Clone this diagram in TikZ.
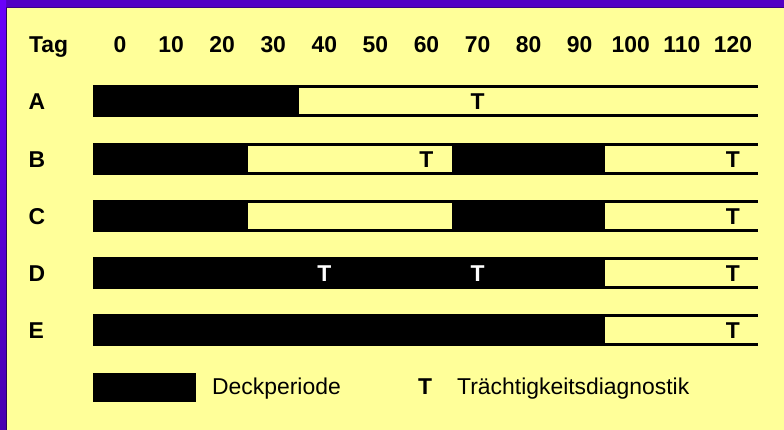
\documentclass[tikz,border=0pt]{standalone}
\usepackage{fontspec}
\setmainfont{Liberation Sans}
\definecolor{bgyellow}{HTML}{FFFF99}
\definecolor{framepurple}{HTML}{5200C4}
\definecolor{frametop}{HTML}{6A00FA}
\definecolor{framebot}{HTML}{4800B0}
\definecolor{framedark}{HTML}{2A0060}
\tikzset{
  lab/.style={font=\fontsize{22.9}{26}\selectfont\bfseries, inner sep=0pt, anchor=base},
  labw/.style={lab, anchor=base west},
  txt/.style={font=\fontsize{22.9}{26}\selectfont, inner sep=0pt, anchor=base west},
  barblack/.style={fill=black},
  baryellow/.style={fill=bgyellow},
}
\newcommand{\dx}[1]{120+5.108*#1}
\begin{document}
\begin{tikzpicture}[x=1pt,y=-1pt]
\useasboundingbox (0,0) rectangle (784,430);
% background and frame
\fill[bgyellow] (0,0) rectangle (784,430);
\fill[framepurple] (0,0) rectangle (784,7);
\shade[top color=frametop, bottom color=framebot] (0,0) rectangle (6,430);
\draw[framedark, line width=0.8pt] (6.4,7) -- (6.4,430);
\draw[framedark!60!framepurple, line width=0.6pt] (6.4,7.2) -- (784,7.2);

% header
\node[labw] (tag) at (29,52.5) {Tag};
\foreach \d in {0,10,...,120}{
  \node[lab] (t\d) at ({\dx{\d}},52.5) {\d};
}

% rows: name / top
\foreach \r/\y in {A/85,B/143,C/200,D/257,E/314}{
  \node[labw] (row\r) at (28.5,\y+24.3) {\r};
  \fill[barblack] (93,\y) rectangle (758,\y+32);
}
% yellow (non-breeding) segments
\fill[baryellow] ({\dx{35}},88) rectangle (758,114);
\fill[baryellow] ({\dx{25}},146) rectangle ({\dx{65}},172);
\fill[baryellow] ({\dx{95}},146) rectangle (758,172);
\fill[baryellow] ({\dx{25}},203) rectangle ({\dx{65}},229);
\fill[baryellow] ({\dx{95}},203) rectangle (758,229);
\fill[baryellow] ({\dx{95}},260) rectangle (758,286);
\fill[baryellow] ({\dx{95}},317) rectangle (758,343);

% pregnancy diagnostics
\node[lab] (tA70) at ({\dx{70}},109.3) {T};
\node[lab] (tB60) at ({\dx{60}},167.3) {T};
\node[lab] (tB120) at ({\dx{120}},167.3) {T};
\node[lab] (tC120) at ({\dx{120}},224.3) {T};
\node[lab, text=white] (tD40) at ({\dx{40}},281.3) {T};
\node[lab, text=white] (tD70) at ({\dx{70}},281.3) {T};
\node[lab] (tD120) at ({\dx{120}},281.3) {T};
\node[lab] (tE120) at ({\dx{120}},338.3) {T};

% legend
\fill[barblack] (93,373) rectangle (196,402);
\node[txt] (legdeck) at (212,394.5) {Deckperiode};
\node[lab] (legT) at (425,394.8) {T};
\node[txt] (legtr) at (457,394.8) {Trächtigkeitsdiagnostik};
\end{tikzpicture}
\end{document}
